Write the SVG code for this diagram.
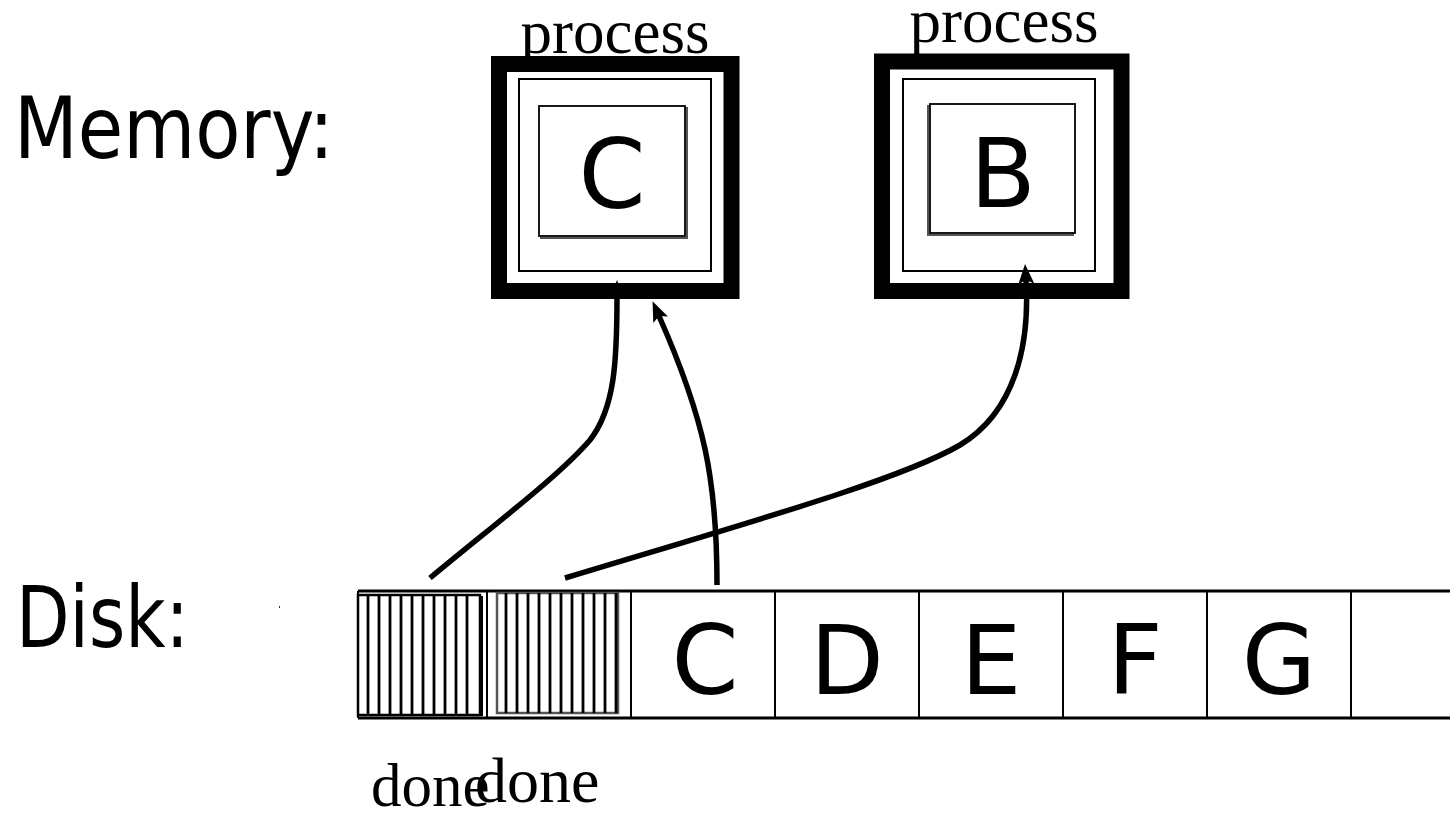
<svg xmlns="http://www.w3.org/2000/svg" width="1450" height="813" viewBox="0 0 1450 813">
<style>
.sans{font-family:"DejaVu Sans","Verdana",sans-serif;fill:#000}
.serif{font-family:"Liberation Serif","Times New Roman",serif;fill:#000}
.thick{fill:none;stroke:#000;stroke-width:16}
.thin{fill:none;stroke:#000;stroke-width:2}
.inner{fill:#fff;stroke:#000;stroke-width:1.8}
.shadow{fill:none;stroke:#555;stroke-width:2}
.conn{fill:none;stroke:#000;stroke-width:5.5}
.hatch{stroke:#000;stroke-width:2.8}
.cell{stroke:#000;stroke-width:2;fill:none}
.rail{stroke:#000;stroke-width:3;fill:none}
</style>
<defs>
<marker id="ah" viewBox="0 0 20 16" refX="4" refY="8" markerWidth="20" markerHeight="16" markerUnits="userSpaceOnUse" orient="auto">
<path d="M0,0 L20,8 L0,16 L4,8 z" fill="#000"/>
</marker>
<marker id="ahs" viewBox="0 0 16 12" refX="0" refY="6" markerWidth="16" markerHeight="12" markerUnits="userSpaceOnUse" orient="auto">
<path d="M0,0 L16,6 L0,12 z" fill="#000"/>
</marker>
</defs>
<rect width="1450" height="813" fill="#fff"/>

<g id="label-memory"><text class="sans" x="14" y="158" font-size="86" textLength="320" lengthAdjust="spacingAndGlyphs">Memory:</text></g>
<g id="label-disk"><text class="sans" x="16" y="647" font-size="85" textLength="173" lengthAdjust="spacingAndGlyphs">Disk:</text>
<rect x="279" y="606" width="1" height="2" fill="#333"/></g>

<g id="disk">
<path class="rail" d="M358,591 H1450 M358,718 H1450"/>
<path class="cell" d="M358,591 V718 M487,591 V718 M631,591 V718 M775,591 V718 M919,591 V718 M1063,591 V718 M1207,591 V718 M1351,591 V718"/>
</g>

<g id="disk-block-1">
<rect x="358" y="595" width="122" height="120" fill="#fff" stroke="#000" stroke-width="2.5"/>
<line x1="481.5" y1="596" x2="481.5" y2="716" stroke="#000" stroke-width="3"/>
<g class="hatch">
<line x1="368" y1="595" x2="368" y2="715"/><line x1="379" y1="595" x2="379" y2="715"/><line x1="390" y1="595" x2="390" y2="715"/><line x1="401" y1="595" x2="401" y2="715"/><line x1="412" y1="595" x2="412" y2="715"/><line x1="423" y1="595" x2="423" y2="715"/><line x1="434" y1="595" x2="434" y2="715"/><line x1="445" y1="595" x2="445" y2="715"/><line x1="456" y1="595" x2="456" y2="715"/><line x1="467" y1="595" x2="467" y2="715"/>
</g>
</g>

<g id="disk-block-2">
<rect x="497" y="593" width="121" height="120" fill="#fff" stroke="#555" stroke-width="2.5"/>
<g class="hatch">
<line x1="506" y1="593" x2="506" y2="713"/><line x1="517" y1="593" x2="517" y2="713"/><line x1="528" y1="593" x2="528" y2="713"/><line x1="539" y1="593" x2="539" y2="713"/><line x1="550" y1="593" x2="550" y2="713"/><line x1="561" y1="593" x2="561" y2="713"/><line x1="572" y1="593" x2="572" y2="713"/><line x1="583" y1="593" x2="583" y2="713"/><line x1="594" y1="593" x2="594" y2="713"/><line x1="605" y1="593" x2="605" y2="713"/><line x1="616" y1="593" x2="616" y2="713"/>
</g>
</g>

<g id="disk-letters" class="sans" font-size="96" text-anchor="middle">
<text x="705" y="694">C</text>
<text x="847" y="694">D</text>
<text x="991" y="694">E</text>
<text x="1135" y="694">F</text>
<text x="1279" y="694">G</text>
</g>

<g id="done-labels" class="serif">
<text x="371" y="806" font-size="61">done</text>
<text x="475" y="802" font-size="64">done</text>
</g>

<g id="process-c">
<text class="serif" x="615" y="53" font-size="63" text-anchor="middle">process</text>
<rect class="thick" x="499" y="64" width="232.5" height="227"/>
<rect class="thin" x="519" y="79" width="192" height="192"/>
<rect class="shadow" x="541" y="108" width="146" height="130"/>
<rect class="inner" x="539" y="106" width="146" height="130"/>
<text class="sans" x="612" y="208" font-size="96" text-anchor="middle">C</text>
</g>

<g id="process-b">
<text class="serif" x="1004" y="42" font-size="63" text-anchor="middle">process</text>
<rect class="thick" x="882" y="61.5" width="239.5" height="229.5"/>
<rect class="thin" x="903" y="79" width="192" height="192"/>
<rect class="shadow" x="928" y="106" width="145" height="129"/>
<rect class="inner" x="930" y="104" width="145" height="129"/>
<text class="sans" x="1003" y="207" font-size="96" text-anchor="middle">B</text>
</g>

<g id="connectors">
<path class="conn" d="M430,578 C500,520 560,475 590,440 C615,408 617,360 617,296" marker-end="url(#ahs)"/>
<path class="conn" d="M717,585 C717,480 705,420 659,316" marker-end="url(#ah)"/>
<path class="conn" d="M565,578 C750,522 900,480 960,445 C1015,412 1030,345 1026,280" marker-end="url(#ah)"/>
</g>
</svg>
